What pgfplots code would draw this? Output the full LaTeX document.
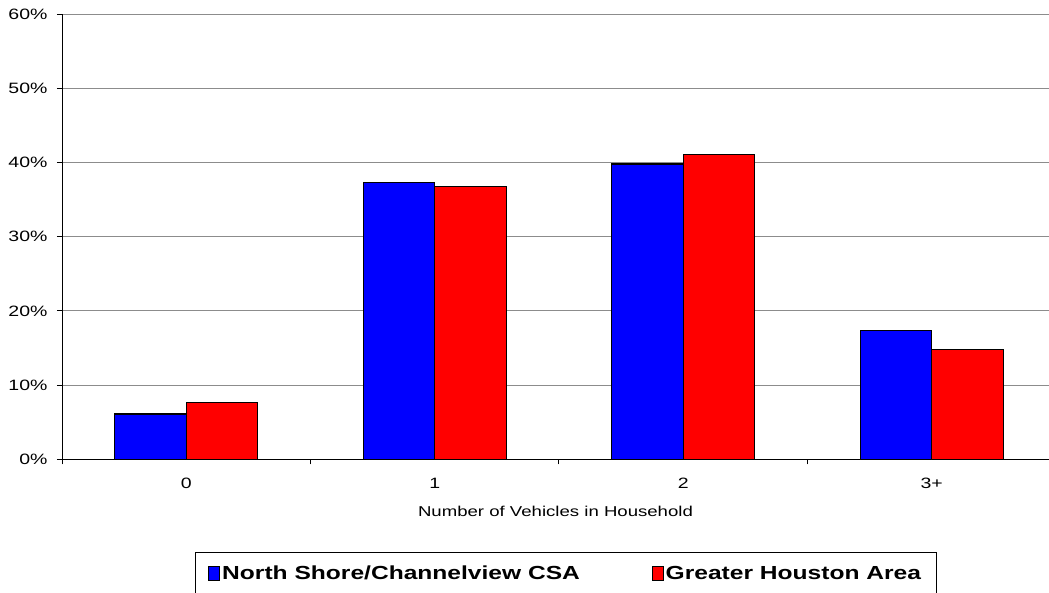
\documentclass[border=0pt]{standalone}
\usepackage{pgfplots}
\pgfplotsset{compat=1.18}
\usepackage{fontspec}
\setmainfont[FakeStretch=1.3]{Liberation Sans}

% vehicles per household, share of households (%)
\pgfplotstableread{
x val
0 6.1
1 37.3
2 39.8
3 17.4
}\northshore
\pgfplotstableread{
x val
0 7.7
1 36.8
2 41.1
3 14.8
}\houston

\begin{document}
\begin{tikzpicture}
\useasboundingbox (0,0) rectangle (1049pt,592pt);
\begin{axis}[
    at={(62pt,132.7pt)}, anchor=south west,
    scale only axis,
    width=987pt, height=445.3pt,
    xmin=-0.5, xmax=3.472,
    ymin=0, ymax=60,
    ytick={0,10,...,60},
    yticklabel={\pgfmathprintnumber{\tick}\%},
    xtick={-0.5,0.5,1.5,2.5},
    xticklabels={},
    extra x ticks={0,1,2,3},
    extra x tick labels={0,1,2,3+},
    extra x tick style={major tick length=0pt, grid=none},
    axis x line*=bottom, axis y line*=left,
    axis line style={black, line width=1pt},
    tick align=outside, major tick length=5pt,
    tick style={black, line width=1pt},
    ymajorgrids, grid style={gray!90, line width=1pt},
    /pgf/number format/assume math mode=true,
    tick label style={font=\fontsize{15}{17}\selectfont},
    xticklabel style={yshift=-15pt},
    yticklabel style={xshift=-6pt},
    xlabel={Number of Vehicles in Household},
    xlabel style={font=\fontsize{14.3}{16}\selectfont, at={(axis description cs:0.5,-0.117)}, anchor=center},
    ybar=0pt, bar width=0.288,
    legend columns=2,
    legend style={at={(0.1348,-0.2075)}, anchor=north west,
        draw=black, line width=0.8pt,
        font=\fontsize{18.9}{22}\selectfont\bfseries,
        inner xsep=13pt, inner ysep=11.5pt,
        /tikz/every even column/.append style={column sep=70pt}},
    legend image code/.code={\draw[#1, draw=black, line width=0.8pt] (-3pt,-7pt) rectangle (8pt,7pt);},
]
\addplot[fill={rgb,255:red,0;green,0;blue,255}, draw=black, line width=1.3pt] table[x=x,y=val] {\northshore};
\addplot[fill={rgb,255:red,255;green,0;blue,0}, draw=black, line width=1.3pt] table[x=x,y=val] {\houston};
\legend{North Shore/Channelview CSA, Greater Houston Area}
\end{axis}
\end{tikzpicture}
\end{document}
